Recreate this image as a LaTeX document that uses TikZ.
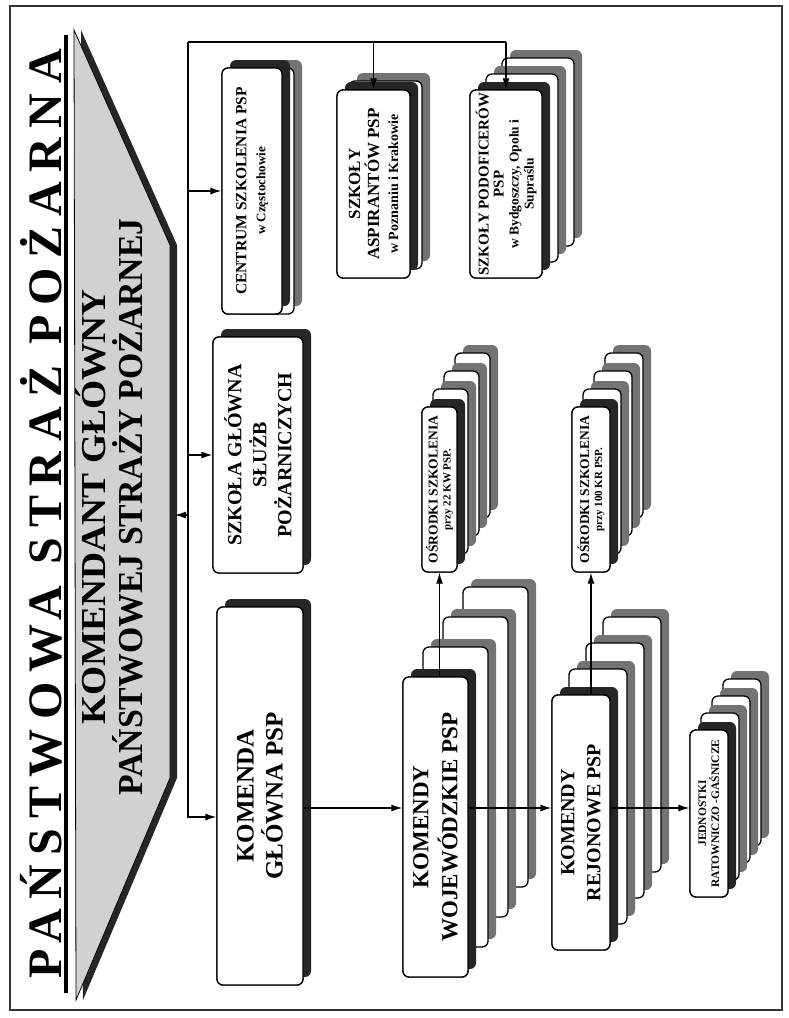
\documentclass[tikz,border=0pt]{standalone}
\usepackage{fontspec}
\setmainfont{Liberation Serif}
\newfontfamily\titlefont[LetterSpace=20]{Liberation Serif}
\usepackage{graphicx}
\usepackage{tikz}
\usetikzlibrary{arrows.meta,positioning,calc}
\tikzstyle{arrow} = [line width=1.2pt,-{Latex[length=11pt,width=7pt]}]
\tikzstyle{busline} = [line width=1.2pt]
\tikzstyle{unit} = [rectangle, rounded corners=6pt, draw=black, line width=1.3pt, fill=white, rotate=90, align=center, text centered, inner sep=1pt]
\newcommand{\drawpile}[7]{%
  \foreach \k in {#5,...,0}{%
    \pgfmathsetmacro{\px}{#1+\k*#6}%
    \pgfmathsetmacro{\py}{#2+\k*#7}%
    \ifnum\k=0 \def\pilecol{black!85}\else\def\pilecol{black!55}\fi
    \fill[fill=\pilecol, rounded corners=6pt] (\px-#3/2+8,\py-#4/2-8) rectangle (\px+#3/2+8,\py+#4/2-8);
    \draw[line width=1.3pt, fill=white, rounded corners=6pt] (\px-#3/2,\py-#4/2) rectangle (\px+#3/2,\py+#4/2);
  }%
}
\newcommand{\sz}[2]{\fontsize{#1}{#2}\selectfont}

\begin{document}
\begin{tikzpicture}[x=1pt, y=-1pt]
    \useasboundingbox (0,0) rectangle (789,1018);
    \draw[line width=2pt, black!80] (10,6) rectangle (782,1010);

    % title and head of the service
    \node[rotate=90, anchor=base, font=\titlefont\bfseries\sz{48}{48}] (psp) at (61,514) {PAŃSTWOWA STRAŻ POŻARNA};
    \draw[line width=4pt] (66,35) -- (66,993);
    \fill[black!85] (81,30) -- (177,245) -- (177,778) -- (83,1000) -- cycle;
    \draw[line width=0.8pt, fill=black!18] (74,30) -- (170,245) -- (170,778) -- (76,1000) -- cycle;
    \node[rotate=90, align=center, font=\bfseries\sz{35}{37}] (kgpsp) at (109,507) {\scalebox{1.07}[1]{KOMENDANT GŁÓWNY}\\\scalebox{0.965}[1]{PAŃSTWOWEJ STRAŻY POŻARNEJ}};
    \coordinate (kgedge) at (175,515);

    % schools
    \drawpile{252}{191}{60}{246}{1}{12}{0}
    \node[unit, minimum width=246pt, minimum height=60pt, font=\bfseries\sz{15.5}{19}] (centrum) at (252,191) {CENTRUM SZKOLENIA PSP\\\sz{13}{19}w Częstochowie};
    \drawpile{373.5}{184}{73}{188}{1}{12}{-9}
    \node[unit, minimum width=188pt, minimum height=73pt, font=\bfseries\sz{17}{19}] (aspiranci) at (373.5,184) {SZKOŁY\\ASPIRANTÓW PSP\\\sz{14}{19}w Poznaniu i Krakowie};
    \drawpile{506}{184}{72}{188}{2}{16}{-16}
    \node[unit, minimum width=188pt, minimum height=72pt, font=\bfseries\sz{15}{15}] (podoficerowie) at (506,184) {SZKOŁY PODOFICERÓW\\PSP\\\sz{13.5}{15}w Bydgoszczy, Opolu i\\\sz{13.5}{15}Supraślu};
    \drawpile{258}{455}{90}{236}{0}{0}{0}
    \node[unit, minimum width=236pt, minimum height=90pt, font=\bfseries\sz{20}{25}] (sgsp) at (258,455) {SZKOŁA GŁÓWNA\\SŁUŻB\\POŻARNICZYCH};
    \drawpile{439.5}{489.5}{35}{165}{3}{11}{-18}
    \node[unit, minimum width=165pt, minimum height=35pt, font=\bfseries\sz{13.5}{13}] (osrodkikw) at (439.5,489.5) {OŚRODKI SZKOLENIA\\\sz{11}{13}przy 22 KW PSP.};
    \drawpile{591}{489.5}{38}{165}{3}{11}{-18}
    \node[unit, minimum width=165pt, minimum height=38pt, font=\bfseries\sz{13.5}{13}] (osrodkikr) at (591,489.5) {OŚRODKI SZKOLENIA\\\sz{11}{13}przy 100 KR PSP.};

    % command chain
    \drawpile{260}{796}{86}{378}{0}{0}{0}
    \node[unit, minimum width=378pt, minimum height=86pt, font=\bfseries\sz{25}{29}] (kg) at (260,796) {KOMENDA\\GŁÓWNA PSP};
    \drawpile{435.5}{827}{65}{300}{3}{20}{-30}
    \node[unit, minimum width=300pt, minimum height=65pt, font=\bfseries\sz{23}{29}] (woj) at (435.5,827) {KOMENDY\\WOJEWÓDZKIE PSP};
    \drawpile{581}{822.5}{58}{255}{3}{17}{-26}
    \node[unit, minimum width=255pt, minimum height=58pt, font=\bfseries\sz{20}{26}] (rej) at (581,822.5) {KOMENDY\\REJONOWE PSP};
    \drawpile{709}{813.5}{38}{167}{3}{11}{-17}
    \node[unit, minimum width=167pt, minimum height=38pt, font=\bfseries\sz{11.5}{13}] (jrg) at (709,813.5) {JEDNOSTKI\\RATOWNICZO -GAŚNICZE};

    % connectors
    \coordinate (bustop) at (188,42);
    \coordinate (busend) at (188,817);
    \coordinate (flow) at (0,808);
    \draw[busline] (bustop) -- (podoficerowie.east |- bustop);
    \draw[arrow] (bustop) |- (kg.north |- busend);
    \draw[arrow] (aspiranci.east |- bustop) -- (aspiranci.east);
    \draw[arrow] (podoficerowie.east |- bustop) -- (podoficerowie.east);
    \draw[arrow] (centrum.north -| bustop) -- (centrum.north);
    \draw[arrow] (sgsp.north -| bustop) -- (sgsp.north);
    \draw[arrow] (kgedge -| bustop) -- (kgedge);
    \draw[arrow] (kg.south |- flow) -- (woj.north |- flow);
    \draw[arrow] (woj.south |- flow) -- (rej.north |- flow);
    \draw[arrow] (rej.south |- flow) -- (jrg.north |- flow);
    \draw[arrow] (osrodkikw.west |- woj.east) -- (osrodkikw.west);
    \draw[arrow] (osrodkikr.west |- rej.east) -- (osrodkikr.west);
\end{tikzpicture}
\end{document}
